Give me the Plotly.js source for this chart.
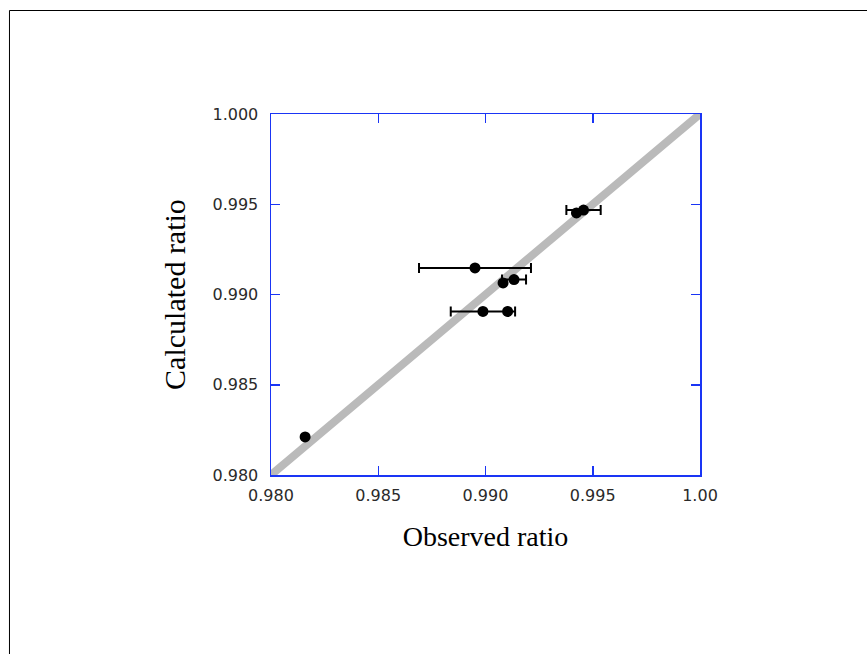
<!DOCTYPE html>
<html>
<head>
<meta charset="utf-8">
<script src="https://cdn.plot.ly/plotly-3.0.1.min.js"></script>
<style>
  html, body { margin: 0; padding: 0; background: #ffffff; }
  #chart { width: 867px; height: 654px; }
</style>
</head>
<body>
<div id="chart"></div>
<script>
// Observed (x) vs calculated (y) ratios, with horizontal error on observed
const observed   = [0.98159, 0.98951, 0.99082, 0.99133, 0.98988, 0.99103, 0.99424, 0.99457];
const calculated = [0.98211, 0.99147, 0.99064, 0.99083, 0.98906, 0.98906, 0.99452, 0.99468];
const observedErr = [0, 0.00261, 0, 0.00056, 0.0015, 0, 0, 0.0008];

// y = x reference line
const lineX = [0.980, 1.000];
const lineY = [0.980, 1.000];

const xTickVals = [0.980, 0.985, 0.990, 0.995, 1.000];
const xTickText = ["0.980", "0.985", "0.990", "0.995", "1.00"];
const yTickVals = [0.980, 0.985, 0.990, 0.995, 1.000];
const yTickText = ["0.980", "0.985", "0.990", "0.995", "1.000"];

const xTitle = "Observed ratio";
const yTitle = "Calculated ratio";

const traces = [
  {
    x: lineX, y: lineY, type: "scatter", mode: "lines",
    line: { color: "#bababa", width: 8 },
    hoverinfo: "skip", showlegend: false
  },
  {
    x: observed, y: calculated, type: "scatter", mode: "markers",
    marker: { color: "#000000", size: 11 },
    error_x: { type: "data", array: observedErr, symmetric: true,
               color: "#000000", thickness: 2, width: 5 },
    showlegend: false
  }
];

const axisCommon = {
  showgrid: false, zeroline: false,
  showline: true, linecolor: "#1a35f5", linewidth: 1.5, mirror: "ticks",
  ticks: "inside", ticklen: 9, tickwidth: 1.5, tickcolor: "#1a35f5",
  tickfont: { family: "DejaVu Sans", size: 16, color: "#2a2a2a" },
  tickmode: "array"
};

const layout = {
  width: 867, height: 654,
  margin: { l: 271, r: 167, t: 114, b: 179 },
  paper_bgcolor: "#ffffff", plot_bgcolor: "#ffffff",
  showlegend: false,
  xaxis: Object.assign({}, axisCommon, {
    range: [0.980, 1.000], tickvals: xTickVals, ticktext: xTickText,
    ticklabelstandoff: 5,
    title: { text: xTitle, font: { family: "Liberation Serif", size: 28, color: "#000000" }, standoff: 22 }
  }),
  yaxis: Object.assign({}, axisCommon, {
    range: [0.980, 1.000], tickvals: yTickVals, ticktext: yTickText,
    ticklabelstandoff: 8,
    title: { text: yTitle, font: { family: "Liberation Serif", size: 30, color: "#000000" }, standoff: 18 }
  }),
  shapes: [
    { type: "rect", xref: "paper", yref: "paper",
      x0: -0.6096, x1: 2.5, y0: -2.5, y1: 1.2867,
      line: { color: "#000000", width: 1 }, fillcolor: "rgba(0,0,0,0)", layer: "below" }
  ]
};

Plotly.newPlot("chart", traces, layout, { displayModeBar: false, staticPlot: true });
</script>
</body>
</html>
